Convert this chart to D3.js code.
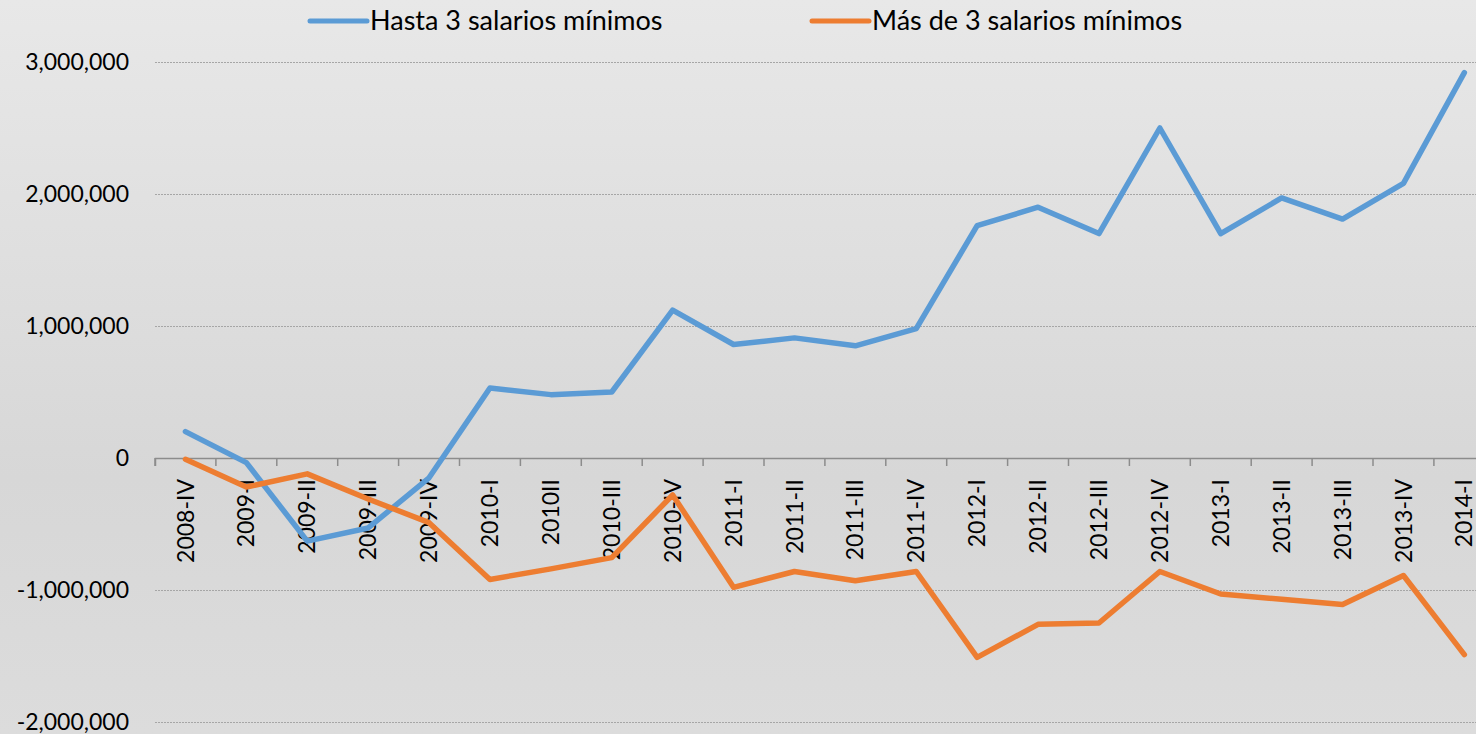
<!DOCTYPE html>
<html>
<head>
<meta charset="utf-8">
<script src="https://cdn.jsdelivr.net/npm/d3@7"></script>
<style>
    body { margin: 0; overflow: hidden; }
    text { font-family: Lato, "Open Sans", sans-serif; fill: #000; }
</style>
</head>
<body>
<div id="chart"></div>
<script>
"use strict";

//Categories (quarters) and series
var quarters = ["2008-IV", "2009-I", "2009-II", "2009-III", "2009-IV",
    "2010-I", "2010II", "2010-III", "2010-IV",
    "2011-I", "2011-II", "2011-III", "2011-IV",
    "2012-I", "2012-II", "2012-III", "2012-IV",
    "2013-I", "2013-II", "2013-III", "2013-IV", "2014-I"];

var hasta3 = [200000, -35000, -630000, -530000, -150000,
    530000, 480000, 500000, 1120000,
    860000, 910000, 850000, 980000,
    1760000, 1900000, 1700000, 2500000,
    1700000, 1970000, 1810000, 2080000, 2920000];

var masDe3 = [-10000, -220000, -120000, -310000, -490000,
    -920000, -840000, -755000, -280000,
    -980000, -860000, -930000, -860000,
    -1510000, -1260000, -1250000, -860000,
    -1030000, -1070000, -1110000, -890000, -1490000];

var yTicks = [-2000000, -1000000, 0, 1000000, 2000000, 3000000];

var seriesNames = ["Hasta 3 salarios mínimos", "Más de 3 salarios mínimos"];
var seriesColors = ["#5b9bd5", "#ed7d31"];

var width = 1476,
    height = 734;

var svg = d3.select("#chart").append("svg")
    .attr("width", width)
    .attr("height", height);

//Background gradient
var grad = svg.append("defs").append("linearGradient")
    .attr("id", "bg")
    .attr("x1", 0).attr("y1", 0).attr("x2", 0).attr("y2", 1);
grad.append("stop").attr("offset", "0%").attr("stop-color", "#e8e8e8");
grad.append("stop").attr("offset", "65%").attr("stop-color", "#d7d7d7");
grad.append("stop").attr("offset", "100%").attr("stop-color", "#dcdcdc");

svg.append("rect")
    .attr("width", width)
    .attr("height", height)
    .attr("fill", "url(#bg)");

//Scales - plot runs past the right edge (picture is cropped)
var x = d3.scaleBand()
    .domain(quarters)
    .range([155, 155 + 22 * 60.9]);

var y = d3.scaleLinear()
    .domain([-2000000, 3000000])
    .range([722, 62]);

//plain hyphen for negatives, like the original
var fmt = function (d) { return d3.format(",")(d).replace("\u2212", "-"); };

//Gridlines
svg.append("g").selectAll("line")
    .data(yTicks.filter(function (d) { return d !== 0; }))
    .enter().append("line")
    .attr("x1", 155)
    .attr("x2", width)
    .attr("y1", function (d) { return y(d) + 0.5; })
    .attr("y2", function (d) { return y(d) + 0.5; })
    .attr("stroke", "#a6a6a6")
    .attr("stroke-width", 1)
    .attr("stroke-dasharray", "2,1");

//Y axis labels
svg.append("g").selectAll("text")
    .data(yTicks)
    .enter().append("text")
    .attr("x", 129)
    .attr("y", function (d) { return y(d); })
    .attr("dy", "0.35em")
    .attr("text-anchor", "end")
    .style("font-size", "23px")
    .text(function (d) { return fmt(d); });

//X axis at zero
var xAxis = d3.axisBottom(x)
    .tickSize(8)
    .tickFormat("");
var axisG = svg.append("g")
    .attr("transform", "translate(0," + y(0) + ")")
    .call(xAxis);
axisG.select(".domain").attr("stroke", "#8c8c8c").attr("stroke-width", 1.5);
//ticks on the category boundaries
axisG.selectAll(".tick").remove();
axisG.append("g").selectAll("line")
    .data(quarters.concat(["_end"]))
    .enter().append("line")
    .attr("x1", function (d, i) { return 155 + i * x.step(); })
    .attr("x2", function (d, i) { return 155 + i * x.step(); })
    .attr("y1", 0)
    .attr("y2", 8)
    .attr("stroke", "#8c8c8c")
    .attr("stroke-width", 1.5);

//Category labels (rotated)
svg.append("g").selectAll("text")
    .data(quarters)
    .enter().append("text")
    .attr("transform", function (d) {
        return "translate(" + (x(d) + x.bandwidth() / 2) + "," + 479 + ") rotate(-90)";
    })
    .attr("dy", "0.35em")
    .attr("text-anchor", "end")
    .style("font-size", "23px")
    .text(function (d) { return d; });

//Lines
var line = d3.line()
    .x(function (d, i) { return x(quarters[i]) + x.bandwidth() / 2; })
    .y(function (d) { return y(d); });

[hasta3, masDe3].forEach(function (s, i) {
    svg.append("path")
        .datum(s)
        .attr("d", line)
        .attr("fill", "none")
        .attr("stroke", seriesColors[i])
        .attr("stroke-width", 5.5)
        .attr("stroke-linejoin", "round")
        .attr("stroke-linecap", "round");
});

//Legend
var legendX = [310, 812];
var legend = svg.append("g").selectAll("g")
    .data(seriesNames)
    .enter().append("g")
    .attr("transform", function (d, i) { return "translate(" + legendX[i] + ",21)"; });
legend.append("line")
    .attr("x1", 0).attr("x2", 57)
    .attr("stroke", function (d, i) { return seriesColors[i]; })
    .attr("stroke-width", 5)
    .attr("stroke-linecap", "round");
legend.append("text")
    .attr("x", 60)
    .attr("dy", "0.35em")
    .style("font-size", "27px")
    .text(function (d) { return d; });
</script>
</body>
</html>
